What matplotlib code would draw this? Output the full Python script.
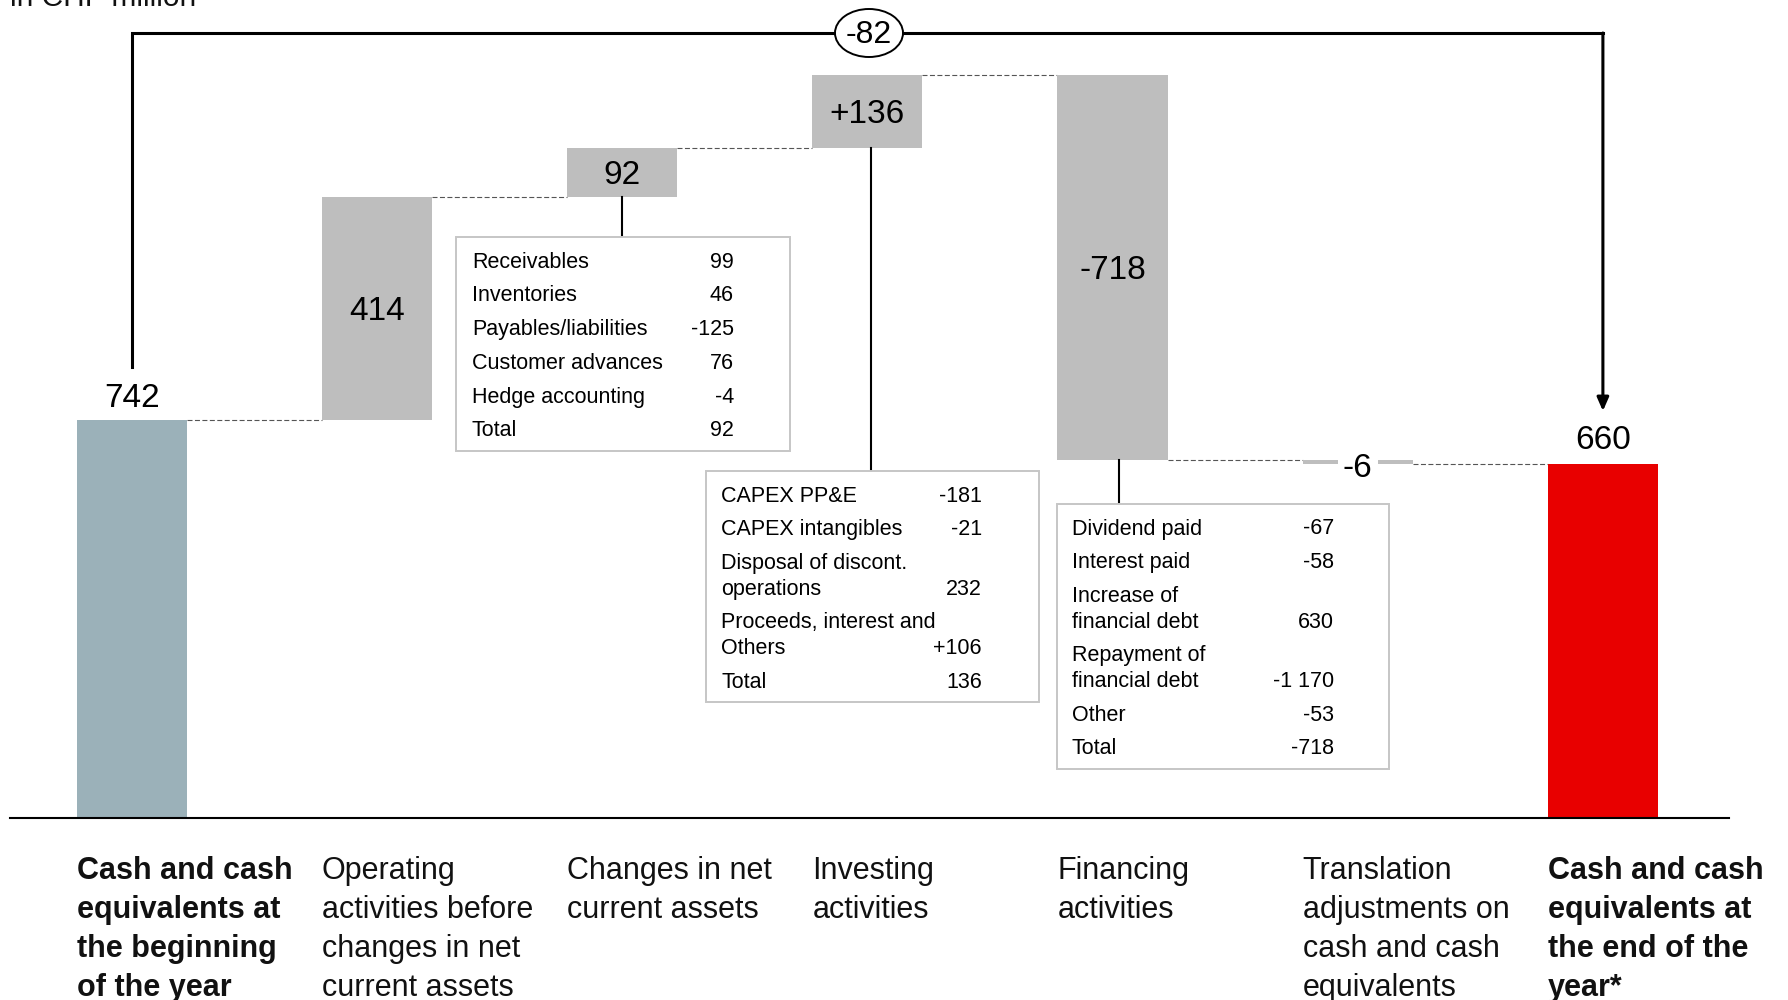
import numpy as np
import matplotlib.pyplot as plt
from matplotlib.patches import Ellipse, Rectangle

plt.rcParams['font.family'] = ['Liberation Sans', 'DejaVu Sans']

# cash flow bridge, CHF million
categories = ['Cash and cash\nequivalents at\nthe beginning\nof the year',
              'Operating\nactivities before\nchanges in net\ncurrent assets',
              'Changes in net\ncurrent assets',
              'Investing\nactivities',
              'Financing\nactivities',
              'Translation\nadjustments on\ncash and cash\nequivalents',
              'Cash and cash\nequivalents at\nthe end of the\nyear*']
values = [742, 414, 92, 136, -718, -6, 660]
kinds = ['total', 'delta', 'delta', 'delta', 'delta', 'delta', 'total']
value_labels = ['742', '414', '92', '+136', '-718', '-6', '660']

nwc_items = ['Receivables', 'Inventories', 'Payables/liabilities',
             'Customer advances', 'Hedge accounting', 'Total']
nwc_values = ['99', '46', '-125', '76', '-4', '92']
inv_items = ['CAPEX PP&E', 'CAPEX intangibles', 'Disposal of discont.\noperations',
             'Proceeds, interest and\nOthers', 'Total']
inv_values = ['-181', '-21', '232', '+106', '136']
fin_items = ['Dividend paid', 'Interest paid', 'Increase of\nfinancial debt',
             'Repayment of\nfinancial debt', 'Other', 'Total']
fin_values = ['-67', '-58', '630', '-1 170', '-53', '-718']

# layout helpers: pixel position -> data position
X0, DX = 131.7, 245.2
Y0, DY = 818.0, 0.537
def px(x):
    return (x - X0) / DX
def py(y):
    return (Y0 - y) / DY

fig = plt.figure(figsize=(17.88, 10), dpi=100)
ax = fig.add_axes([0, 0, 1, 1])
ax.set_xlim(px(0), px(1788))
ax.set_ylim(py(1000), py(0))
ax.axis('off')

# waterfall geometry
x = np.arange(len(values))
bottoms, heights, levels = [], [], []
run = 0
for v, k in zip(values, kinds):
    if k == 'total':
        bottoms.append(0)
        run = v
    else:
        bottoms.append(run)
        run += v
    heights.append(v)
    levels.append(run)

colors = ['#9bb1b9'] + ['#bebebe'] * 5 + ['#e80000']
w = 0.449
ax.bar(x, heights, bottom=bottoms, width=w, color=colors, linewidth=0, zorder=2)

# dashed level connectors
for i in range(len(values) - 1):
    ax.plot([x[i] + w / 2, x[i + 1] - w / 2], [levels[i], levels[i]],
            color='#555555', lw=0.8, linestyle=(0, (4.5, 2.2)), zorder=1)

# value labels
fs_val = 24
nudge = 3 / DY
ax.text(x[0], values[0] + 24 / DY - nudge, value_labels[0], ha='center', va='center', fontsize=fs_val)
ax.text(x[6], values[6] + 26 / DY - nudge, value_labels[6], ha='center', va='center', fontsize=fs_val)
for i in range(1, 5):
    ax.text(x[i], bottoms[i] + heights[i] / 2 - nudge, value_labels[i], ha='center', va='center',
            fontsize=fs_val, zorder=3)
ax.text(x[5], levels[5] - 2 / DY - nudge, value_labels[5], ha='center', va='center', fontsize=fs_val,
        zorder=4, bbox=dict(boxstyle='square,pad=0.15', fc='white', ec='none'))

# baseline
ax.plot([px(10), px(1729)], [0, 0], color='black', lw=1.5, zorder=3)

# category labels
for i, lab in enumerate(categories):
    bold = kinds[i] == 'total'
    ax.text(x[i] - w / 2, py(856), lab, ha='left', va='top', fontsize=22,
            fontweight='bold' if bold else 'normal', color='#111111', linespacing=1.39)

# overall change bracket
change = values[-1] - values[0]
ax.plot([x[0], x[0], x[6]], [py(367), py(33), py(33)], color='black', lw=2.2,
        solid_joinstyle='miter', zorder=3)
ax.annotate('', xy=(x[6], py(411)), xytext=(x[6], py(33)),
            arrowprops=dict(arrowstyle='-|>,head_length=0.8,head_width=0.35',
                            color='black', lw=2.2, shrinkA=0, shrinkB=0))
ax.add_patch(Ellipse((px(869), py(33)), 68 / DX, 48 / DY, fc='white', ec='black',
                     lw=1.4, zorder=4))
ax.text(px(869), py(35), f'{change:d}', ha='center', va='center', fontsize=23, zorder=5)

# title (cut off at the top edge, as in the source)
ax.text(px(10), py(6), 'in CHF million', ha='left', va='baseline', fontsize=21.5, color='#111111')


def detail_box(left, top, right, lbl_x, val_x, items, vals):
    y = top + 25
    for lbl, v in zip(items, vals):
        lines = lbl.split('\n')
        for k, line in enumerate(lines):
            ax.text(px(lbl_x), py(y + k * 25.5), line, ha='left', va='center', fontsize=15.5, zorder=5)
        ax.text(px(val_x), py(y + (len(lines) - 1) * 25.5), v, ha='right', va='center',
                fontsize=15.5, zorder=5)
        y += (len(lines) - 1) * 25.5 + 33.8
    bottom = y - 33.8 + 20
    ax.add_patch(Rectangle((px(left), py(bottom)), px(right) - px(left), py(top) - py(bottom),
                           fc='white', ec='#c6c6c6', lw=1.4, zorder=4))


detail_box(456, 237, 790, 472, 734, nwc_items, nwc_values)
detail_box(706, 471, 1039, 721, 982, inv_items, inv_values)
detail_box(1057, 504, 1389, 1072, 1334, fin_items, fin_values)

# connectors from bars to detail boxes
ax.plot([x[2], x[2]], [bottoms[2], py(237)], color='black', lw=1.5, zorder=3)
ax.plot([px(871), px(871)], [bottoms[3], py(471)], color='black', lw=1.5, zorder=3)
ax.plot([px(1119), px(1119)], [levels[4], py(504)], color='black', lw=1.5, zorder=3)

fig.savefig('out.png', dpi=100)
